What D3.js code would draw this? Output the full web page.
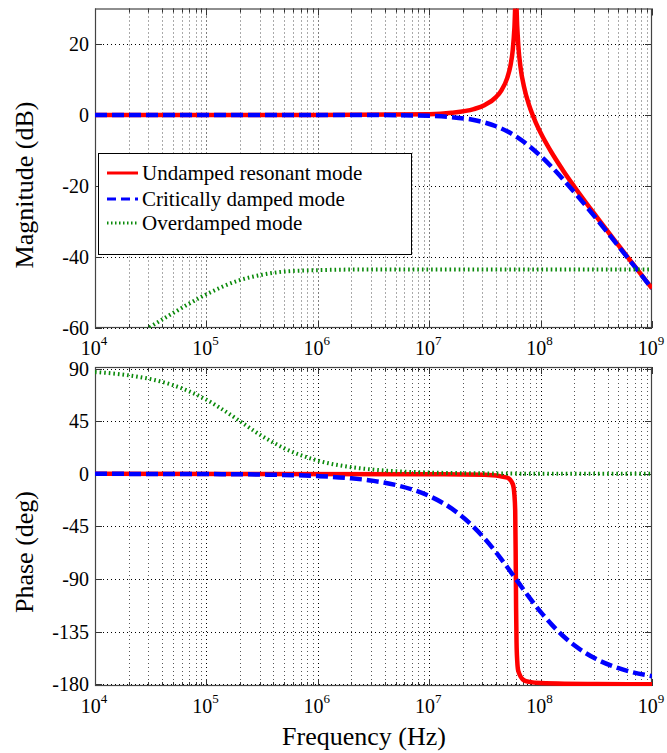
<!DOCTYPE html>
<html><head><meta charset="utf-8">
<script src="https://cdn.jsdelivr.net/npm/d3@7/dist/d3.min.js"></script>
<style>
html,body{margin:0;padding:0;background:#fff;}
svg{display:block;font-family:"Liberation Serif","Times New Roman",serif;}
</style></head>
<body>
<svg id="chart" width="667" height="753"></svg>
<script>
// ---------- data (frequency given as log10(Hz)) ----------
const seriesNames = ["Undamped resonant mode", "Critically damped mode", "Overdamped mode"];
const xTickExps = [4, 5, 6, 7, 8, 9];
const magTicks = [-60, -40, -20, 0, 20];
const phaseTicks = [-180, -135, -90, -45, 0, 45, 90];

const undampedMagF = [4, 6, 7, 7.2, 7.4, 7.5, 7.6, 7.65, 7.7, 7.73, 7.75, 7.765, 7.778, 7.79, 7.8, 7.82, 7.85, 7.9, 7.95, 8, 8.1, 8.2, 8.3, 8.5, 8.7, 9];
const undampedMag  = [0, 0, 0.24, 0.63, 1.67, 2.83, 5.04, 7.02, 10.39, 14.0, 18.3, 24.6, 34, 25.0, 19.5, 13.4, 8.1, 2.46, -1.63, -5.0, -10.64, -15.53, -20.05, -28.56, -36.75, -48.84];

const criticalMagF = [4, 6, 6.5, 7, 7.2, 7.4, 7.5, 7.6, 7.7, 7.778, 7.9, 8, 8.1, 8.2, 8.3, 8.5, 8.7, 9];
const criticalMag  = [0, 0, -0.02, -0.24, -0.59, -1.40, -2.13, -3.17, -4.60, -6.02, -8.80, -11.55, -14.65, -18.04, -21.63, -29.18, -36.99, -48.9];

const overMagF = [4, 4.3, 4.4, 4.5, 4.7, 5, 5.3, 5.5, 5.7, 6, 6.5, 9];
const overMag  = [-69.5, -63.6, -61.6, -59.6, -55.8, -50.5, -46.5, -45.0, -44.1, -43.7, -43.5, -43.5];

const undampedPhF = [4, 7, 7.5, 7.7, 7.75, 7.765, 7.772, 7.776, 7.778, 7.78, 7.784, 7.79, 7.8, 7.85, 7.9, 8, 8.5, 9];
const undampedPh  = [0, -0.4, -0.8, -3.2, -8.7, -18.2, -31.6, -65.7, -90, -114.6, -144.1, -159.8, -168.8, -176.6, -178.0, -178.9, -179.8, -180];

const criticalPhF = [4, 5, 5.5, 6, 6.3, 6.5, 6.7, 7, 7.2, 7.4, 7.5, 7.6, 7.7, 7.778, 7.9, 8, 8.1, 8.2, 8.3, 8.5, 8.7, 9];
const criticalPh  = [0, -0.19, -0.6, -1.91, -3.8, -6.03, -9.55, -18.9, -29.6, -45.5, -55.6, -67.1, -79.7, -90, -105.9, -118.1, -129.0, -138.5, -146.5, -158.5, -166.3, -173.1];

const overPhF = [4, 4.3, 4.5, 4.7, 5, 5.2, 5.3, 5.5, 5.7, 6, 6.3, 6.5, 7, 7.5, 8, 9];
const overPh  = [87.1, 84.3, 81.0, 75.9, 63.4, 51.6, 45.1, 32.3, 21.8, 11.3, 5.7, 3.6, 1.1, 0.4, 0.1, 0];

// ---------- layout ----------
const svg = d3.select("#chart");
const L = 95, R = 652;
const colors = ["#ff0000", "#0000ff", "#0a8a0a"];
const widths = [4.5, 4.5, 4];
const dashes = [null, "12,5", "1.6,3"];

const x = d3.scaleLog().domain([1e4, 1e9]).range([L, R]);
const yMag = d3.scaleLinear().domain([-60, 30]).range([328, 8.5]);
const yPh = d3.scaleLinear().domain([-181.5, 91.4]).range([686, 367]);

function zip(fs, vs) { return fs.map((f, i) => [Math.pow(10, f), vs[i]]); }

function drawAxes(id, y, yTicks, labelBaseline) {
  const g = svg.append("g");
  const [yb, yt] = y.range();
  const minors = [];
  for (let e = 4; e < 9; e++) for (let m = 2; m <= 9; m++) minors.push(m * Math.pow(10, e));
  const majors = xTickExps.map(e => Math.pow(10, e));
  svg.append("clipPath").attr("id", id).append("rect")
    .attr("x", L).attr("y", yt).attr("width", R - L).attr("height", yb - yt);
  g.selectAll(".gmin").data(minors).enter().append("line")
    .attr("x1", d => Math.round(x(d)) + 0.5).attr("x2", d => Math.round(x(d)) + 0.5)
    .attr("y1", yt).attr("y2", yb)
    .attr("stroke", "#555").attr("stroke-width", 1).attr("stroke-dasharray", "1,3");
  g.selectAll(".gmaj").data(majors.slice(1, -1)).enter().append("line")
    .attr("x1", d => Math.round(x(d)) + 0.5).attr("x2", d => Math.round(x(d)) + 0.5)
    .attr("y1", yt).attr("y2", yb)
    .attr("stroke", "#000").attr("stroke-width", 1).attr("stroke-dasharray", "1,3");
  g.selectAll(".gy").data(yTicks).enter().append("line")
    .attr("x1", L).attr("x2", R)
    .attr("y1", d => Math.round(y(d)) + 0.5).attr("y2", d => Math.round(y(d)) + 0.5)
    .attr("stroke", "#000").attr("stroke-width", 1).attr("stroke-dasharray", "1,3");
  const t = svg.append("g").attr("stroke", "#333").attr("stroke-width", 1);
  minors.forEach(d => {
    const xx = Math.round(x(d)) + 0.5;
    t.append("line").attr("x1", xx).attr("x2", xx).attr("y1", yb).attr("y2", yb - 4);
    t.append("line").attr("x1", xx).attr("x2", xx).attr("y1", yt).attr("y2", yt + 4);
  });
  majors.forEach(d => {
    const xx = Math.round(x(d)) + 0.5;
    t.append("line").attr("x1", xx).attr("x2", xx).attr("y1", yb).attr("y2", yb - 7);
    t.append("line").attr("x1", xx).attr("x2", xx).attr("y1", yt).attr("y2", yt + 7);
  });
  yTicks.forEach(d => {
    const yy = Math.round(y(d)) + 0.5;
    t.append("line").attr("x1", L).attr("x2", L + 7).attr("y1", yy).attr("y2", yy);
    t.append("line").attr("x1", R).attr("x2", R - 7).attr("y1", yy).attr("y2", yy);
  });
  svg.append("rect").attr("x", L + 0.5).attr("y", yt + 0.5).attr("width", R - L - 1).attr("height", yb - yt - 1)
    .attr("fill", "none").attr("stroke", "#444").attr("stroke-width", 1.2);
  svg.append("g").selectAll("text").data(yTicks).enter().append("text")
    .attr("x", 89).attr("y", d => y(d) + 7)
    .attr("text-anchor", "end").attr("font-size", 20).attr("fill", "#000")
    .text(d => d);
  const xl = svg.append("g");
  xTickExps.forEach(e => {
    const tx = xl.append("text").attr("x", x(Math.pow(10, e)) - 1).attr("y", labelBaseline)
      .attr("text-anchor", "middle").attr("font-size", 20).attr("fill", "#000");
    tx.append("tspan").text("10");
    tx.append("tspan").attr("font-size", 13).attr("dy", -10).text(e);
  });
}

function drawSeries(id, y, list) {
  const g = svg.append("g").attr("clip-path", `url(#${id})`);
  const line = d3.line().x(d => x(d[0])).y(d => y(d[1])).curve(d3.curveMonotoneX);
  list.forEach((pts, i) => {
    g.append("path").attr("d", line(pts)).attr("fill", "none")
      .attr("stroke", colors[i]).attr("stroke-width", widths[i])
      .attr("stroke-dasharray", dashes[i]).attr("stroke-linejoin", "round");
  });
}

drawAxes("clipMag", yMag, magTicks, 355);
drawSeries("clipMag", yMag, [zip(undampedMagF, undampedMag), zip(criticalMagF, criticalMag), zip(overMagF, overMag)]);

drawAxes("clipPh", yPh, phaseTicks, 713);
drawSeries("clipPh", yPh, [zip(undampedPhF, undampedPh), zip(criticalPhF, criticalPh), zip(overPhF, overPh)]);

// legend
const lg = svg.append("g");
lg.append("rect").attr("x", 98.5).attr("y", 153.5).attr("width", 313).attr("height", 101)
  .attr("fill", "#fff").attr("stroke", "#000").attr("stroke-width", 1);
const rowsY = [173, 199, 223];
seriesNames.forEach((name, i) => {
  lg.append("line").attr("x1", 107).attr("x2", 138).attr("y1", rowsY[i]).attr("y2", rowsY[i])
    .attr("stroke", colors[i]).attr("stroke-width", 3)
    .attr("stroke-dasharray", i === 1 ? "9,5" : (i === 2 ? "1.5,2.5" : null));
  lg.append("text").attr("x", 142).attr("y", rowsY[i] + 7).attr("font-size", 21).attr("fill", "#000").text(name);
});

// axis titles
svg.append("text").attr("transform", "translate(33,185) rotate(-90)")
  .attr("text-anchor", "middle").attr("font-size", 26).attr("fill", "#000").text("Magnitude (dB)");
svg.append("text").attr("transform", "translate(33,552) rotate(-90)")
  .attr("text-anchor", "middle").attr("font-size", 26).attr("fill", "#000").text("Phase (deg)");
svg.append("text").attr("x", 364).attr("y", 745)
  .attr("text-anchor", "middle").attr("font-size", 26).attr("fill", "#000").text("Frequency (Hz)");
</script>
</body></html>
